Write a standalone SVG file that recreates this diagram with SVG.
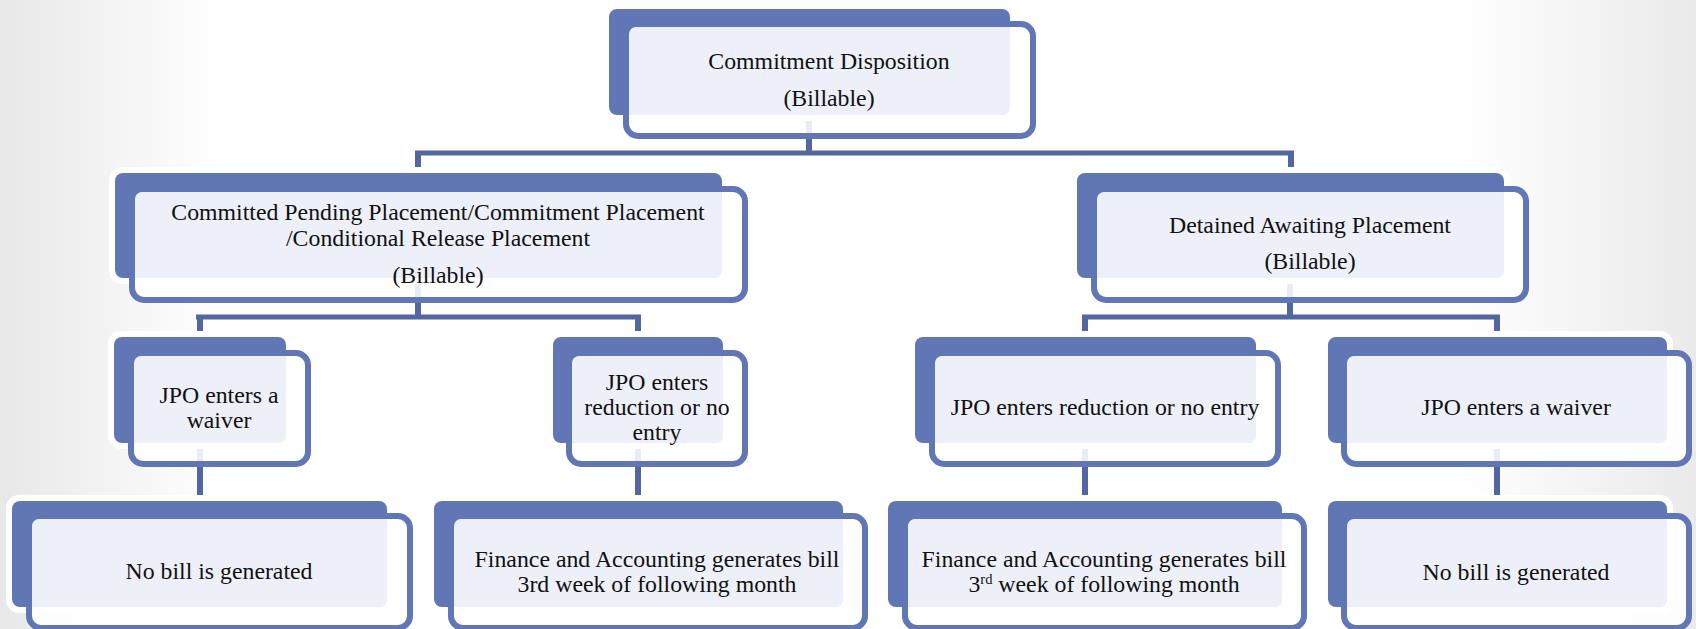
<svg xmlns="http://www.w3.org/2000/svg" width="1696" height="629" viewBox="0 0 1696 629">
<defs>
<linearGradient id="bg" x1="0" y1="0" x2="1" y2="0">
<stop offset="0" stop-color="#E8E8E8"/>
<stop offset="0.13" stop-color="#FFFFFF"/>
<stop offset="0.86" stop-color="#FFFFFF"/>
<stop offset="1" stop-color="#EAEAEA"/>
</linearGradient>
<style>
.halo{fill:#FFFFFF}
.back{fill:#6176B4}
.front{fill:#FFFFFF;fill-opacity:0.88;stroke:#6176B4;stroke-width:6}
.light{fill:#EDF0F8}
.t{font-family:"Liberation Serif","DejaVu Serif","Times New Roman",serif;font-size:23.8px;fill:#111111;text-anchor:middle}
.sup{font-size:14.5px}
.c{stroke:#5266A0;fill:none}
.v{stroke-width:6}
.h{stroke-width:5}
</style>
</defs>
<rect x="0" y="0" width="1696" height="629" fill="url(#bg)"/>

<g id="connectors">
<line class="c v" x1="809" y1="110" x2="809" y2="155"/>
<line class="c h" x1="415" y1="153" x2="1294" y2="153"/>
<line class="c v" x1="418" y1="151" x2="418" y2="180"/>
<line class="c v" x1="1291" y1="151" x2="1291" y2="180"/>
<line class="c v" x1="418" y1="270" x2="418" y2="319"/>
<line class="c h" x1="196" y1="317" x2="641" y2="317"/>
<line class="c v" x1="200" y1="315" x2="200" y2="345"/>
<line class="c v" x1="638" y1="315" x2="638" y2="345"/>
<line class="c v" x1="1290" y1="270" x2="1290" y2="319"/>
<line class="c h" x1="1082" y1="317" x2="1500" y2="317"/>
<line class="c v" x1="1085" y1="315" x2="1085" y2="345"/>
<line class="c v" x1="1497" y1="315" x2="1497" y2="345"/>
<line class="c v" x1="200" y1="440" x2="200" y2="505"/>
<line class="c v" x1="638" y1="440" x2="638" y2="505"/>
<line class="c v" x1="1085" y1="440" x2="1085" y2="505"/>
<line class="c v" x1="1497" y1="440" x2="1497" y2="505"/>
</g>

<g id="node-commitment-disposition">
<rect class="halo" x="603" y="3" width="413" height="118" rx="13"/>
<rect class="back" x="609" y="9" width="401" height="106" rx="8"/>
<rect class="front" x="626" y="24" width="407" height="112" rx="12"/>
<rect class="light" x="629" y="27" width="381" height="88" rx="7"/>
<text class="t" x="829" y="69">Commitment Disposition</text>
<text class="t" x="829" y="106">(Billable)</text>
</g>

<g id="node-committed-pending">
<rect class="halo" x="109" y="167" width="619" height="117" rx="13"/>
<rect class="back" x="115" y="173" width="607" height="105" rx="8"/>
<rect class="front" x="132" y="189" width="613" height="111" rx="12"/>
<rect class="light" x="135" y="192" width="587" height="86" rx="7"/>
<text class="t" x="438" y="220">Committed Pending Placement/Commitment Placement</text>
<text class="t" x="438" y="246">/Conditional Release Placement</text>
<text class="t" x="438" y="283">(Billable)</text>
</g>

<g id="node-detained-awaiting">
<rect class="halo" x="1071" y="167" width="439" height="117" rx="13"/>
<rect class="back" x="1077" y="173" width="427" height="105" rx="8"/>
<rect class="front" x="1094" y="189" width="432" height="111" rx="12"/>
<rect class="light" x="1097" y="192" width="407" height="86" rx="7"/>
<text class="t" x="1310" y="233">Detained Awaiting Placement</text>
<text class="t" x="1310" y="269">(Billable)</text>
</g>

<g id="node-jpo-waiver-left">
<rect class="halo" x="108" y="331" width="184" height="118" rx="13"/>
<rect class="back" x="114" y="337" width="172" height="106" rx="8"/>
<rect class="front" x="131" y="353" width="177" height="111" rx="12"/>
<rect class="light" x="134" y="356" width="152" height="87" rx="7"/>
<text class="t" x="219" y="403">JPO enters a</text>
<text class="t" x="219" y="428">waiver</text>
</g>

<g id="node-jpo-reduction-left">
<rect class="halo" x="547" y="331" width="182" height="118" rx="13"/>
<rect class="back" x="553" y="337" width="170" height="106" rx="8"/>
<rect class="front" x="569" y="353" width="176" height="111" rx="12"/>
<rect class="light" x="572" y="356" width="151" height="87" rx="7"/>
<text class="t" x="657" y="390">JPO enters</text>
<text class="t" x="657" y="415">reduction or no</text>
<text class="t" x="657" y="440">entry</text>
</g>

<g id="node-jpo-reduction-right">
<rect class="halo" x="909" y="331" width="353" height="118" rx="13"/>
<rect class="back" x="915" y="337" width="341" height="106" rx="8"/>
<rect class="front" x="932" y="353" width="346" height="111" rx="12"/>
<rect class="light" x="935" y="356" width="321" height="87" rx="7"/>
<text class="t" x="1105" y="415">JPO enters reduction or no entry</text>
</g>

<g id="node-jpo-waiver-right">
<rect class="halo" x="1322" y="331" width="351" height="118" rx="13"/>
<rect class="back" x="1328" y="337" width="339" height="106" rx="8"/>
<rect class="front" x="1344" y="353" width="345" height="111" rx="12"/>
<rect class="light" x="1347" y="356" width="320" height="87" rx="7"/>
<text class="t" x="1516" y="415">JPO enters a waiver</text>
</g>

<g id="node-no-bill-left">
<rect class="halo" x="6" y="495" width="387" height="118" rx="13"/>
<rect class="back" x="12" y="501" width="375" height="106" rx="8"/>
<rect class="front" x="29" y="516" width="381" height="112" rx="12"/>
<rect class="light" x="32" y="519" width="355" height="88" rx="7"/>
<text class="t" x="219" y="579">No bill is generated</text>
</g>

<g id="node-finance-left">
<rect class="halo" x="428" y="495" width="421" height="118" rx="13"/>
<rect class="back" x="434" y="501" width="409" height="106" rx="8"/>
<rect class="front" x="451" y="516" width="414" height="112" rx="12"/>
<rect class="light" x="454" y="519" width="389" height="88" rx="7"/>
<text class="t" x="657" y="567">Finance and Accounting generates bill</text>
<text class="t" x="657" y="592">3rd week of following month</text>
</g>

<g id="node-finance-right">
<rect class="halo" x="882" y="495" width="406" height="118" rx="13"/>
<rect class="back" x="888" y="501" width="394" height="106" rx="8"/>
<rect class="front" x="905" y="516" width="399" height="112" rx="12"/>
<rect class="light" x="908" y="519" width="374" height="88" rx="7"/>
<text class="t" x="1104" y="567">Finance and Accounting generates bill</text>
<text class="t" x="1104" y="592">3<tspan class="sup" dy="-8">rd</tspan><tspan dy="8"> week of following month</tspan></text>
</g>

<g id="node-no-bill-right">
<rect class="halo" x="1322" y="495" width="351" height="118" rx="13"/>
<rect class="back" x="1328" y="501" width="339" height="106" rx="8"/>
<rect class="front" x="1344" y="516" width="345" height="112" rx="12"/>
<rect class="light" x="1347" y="519" width="320" height="88" rx="7"/>
<text class="t" x="1516" y="580">No bill is generated</text>
</g>
</svg>
